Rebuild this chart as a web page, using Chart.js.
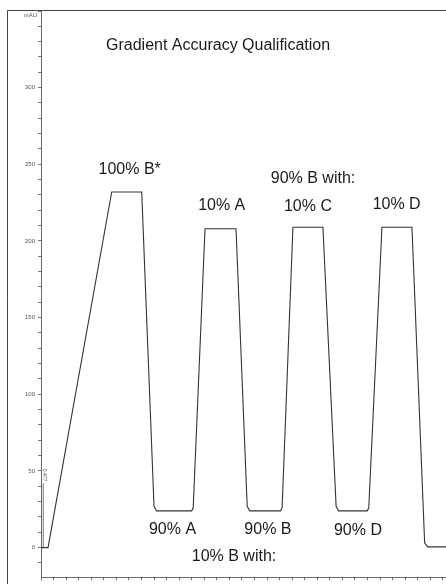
<!DOCTYPE html>
<html>
<head>
<meta charset="utf-8">
<script src="https://cdn.jsdelivr.net/npm/chart.js@4.4.1/dist/chart.umd.min.js"></script>
<style>
  html, body { margin: 0; padding: 0; background: #fff; overflow: hidden; }
  canvas { display: block; }
</style>
</head>
<body>
<canvas id="c" width="446" height="584"></canvas>
<script>
// ---- data (time in min, absorbance in mAU) ----
const timeMin    = [0, 0.56, 5.63, 8.02, 9.0, 9.2, 12.0, 12.12, 13.06, 15.53, 16.42, 16.62, 19.08, 19.2, 20.06, 22.45, 23.5, 23.7, 25.98, 26.1, 27.15, 29.54, 30.55, 30.8, 32.25];
const absorbance = [0, 0,    232,  232,  27,  24,  24,    26,    208,   208,   27,    24,    24,    26,   209,   209,   27,   24,   24,    26,   209,   209,   3,     0.5,  0.5];

const markerTime  = [0.18, 0.18];
const markerValue = [0, 42];
const markerLabel = "0.477";

const yTickLabels = ["0", "50", "100", "150", "200", "250", "300"];
const yUnit = "mAU";
const titleText = "Gradient Accuracy Qualification";

const annotationText = ["100% B*", "90% B with:", "10% A", "10% C", "10% D", "90% A", "90% B", "90% D", "10% B with:"];
const annotationTime = [7.06, 21.66, 14.39, 21.26, 28.32, 10.47, 18.07, 25.24, 15.37];
const annotationAbs  = [246.3, 240.7, 222.8, 222.6, 223.9, 11.9, 11.9, 11.3, -5.9];

const FONT = "'Liberation Sans', Arial, Helvetica, sans-serif";

const overlay = {
  id: 'overlay',
  afterDraw(chart) {
    const ctx = chart.ctx;
    const xs = chart.scales.x, ys = chart.scales.y;
    const ca = chart.chartArea;
    ctx.save();
    // frame
    ctx.strokeStyle = '#444';
    ctx.lineWidth = 1;
    ctx.beginPath();
    ctx.moveTo(7.5, chart.height);
    ctx.lineTo(7.5, ca.top - 0.5);
    ctx.lineTo(chart.width, ca.top - 0.5);
    ctx.stroke();
    // unit
    ctx.fillStyle = '#555';
    ctx.font = '6px ' + FONT;
    ctx.textAlign = 'right';
    ctx.textBaseline = 'middle';
    ctx.fillText(yUnit, 37, 15);
    // title
    ctx.fillStyle = '#1a1a1a';
    ctx.font = '16px ' + FONT;
    ctx.textAlign = 'center';
    ctx.textBaseline = 'middle';
    ctx.fillText(titleText, xs.getPixelForValue(14.1), ys.getPixelForValue(327.6));
    // annotations
    for (let i = 0; i < annotationText.length; i++) {
      ctx.fillText(annotationText[i], xs.getPixelForValue(annotationTime[i]), ys.getPixelForValue(annotationAbs[i]));
    }
    // marker label (rotated)
    ctx.font = '5px ' + FONT;
    ctx.fillStyle = '#444';
    ctx.translate(xs.getPixelForValue(markerTime[0]) + 1, ys.getPixelForValue(markerValue[1]) - 2);
    ctx.rotate(Math.PI / 2);
    ctx.textAlign = 'right';
    ctx.textBaseline = 'middle';
    ctx.fillText(markerLabel, 0, 0);
    ctx.restore();
  }
};

new Chart(document.getElementById('c'), {
  type: 'line',
  data: {
    datasets: [
      {
        data: timeMin.map((t, i) => ({ x: t, y: absorbance[i] })),
        borderColor: '#333',
        borderWidth: 1.1,
        pointRadius: 0,
        tension: 0,
        fill: false
      },
      {
        data: markerTime.map((t, i) => ({ x: t, y: markerValue[i] })),
        borderColor: '#555',
        borderWidth: 0.8,
        pointRadius: 0,
        fill: false
      }
    ]
  },
  options: {
    responsive: false,
    devicePixelRatio: 1,
    animation: false,
    events: [],
    layout: { padding: { left: 7, top: 11, right: 0, bottom: 0 } },
    plugins: { legend: { display: false }, tooltip: { enabled: false }, title: { display: false } },
    scales: {
      x: {
        type: 'linear',
        min: 0,
        max: 32.25,
        afterFit(s) { s.height = 6; },
        afterBuildTicks(s) {
          const t = [];
          for (let v = 0; v <= 32; v += 1) t.push({ value: v });
          s.ticks = t;
        },
        ticks: { callback: () => '', autoSkip: false, maxRotation: 0, padding: 0 },
        grid: { drawOnChartArea: false, drawTicks: true, tickLength: 3, color: '#777', lineWidth: 1 },
        border: { display: true, color: '#666', width: 1 }
      },
      y: {
        type: 'linear',
        min: -19.4,
        max: 350,
        afterFit(s) { s.width = 34; },
        afterBuildTicks(s) {
          const t = [];
          for (let v = -10; v <= 350; v += 10) t.push({ value: v });
          s.ticks = t;
        },
        ticks: {
          autoSkip: false,
          padding: 3,
          color: '#555',
          font: { size: 6, family: FONT },
          callback: (v) => {
            const idx = yTickLabels.indexOf(String(v));
            return idx >= 0 ? yTickLabels[idx] : '';
          }
        },
        grid: { drawOnChartArea: false, drawTicks: true, tickLength: 3, color: '#777', lineWidth: 1 },
        border: { display: true, color: '#666', width: 1 }
      }
    }
  },
  plugins: [overlay]
});
</script>
</body>
</html>
